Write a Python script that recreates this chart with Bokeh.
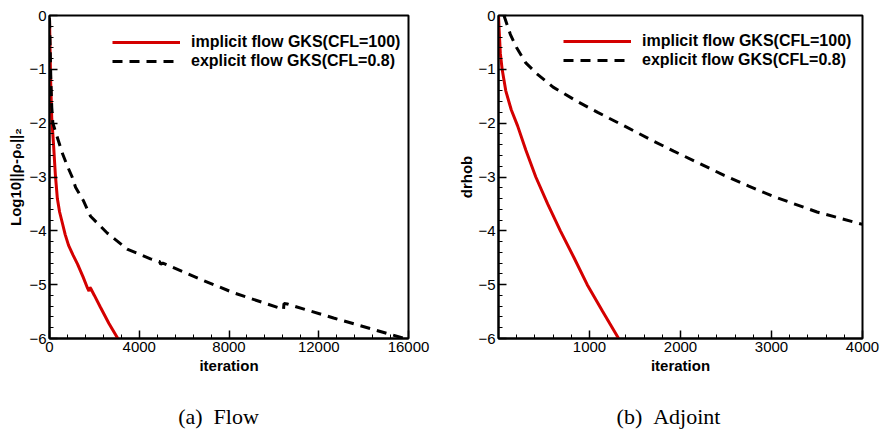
import numpy as np
from bokeh.plotting import figure
from bokeh.layouts import row, column
from bokeh.models import Range1d, FixedTicker, Legend, LegendItem, ColumnDataSource
from bokeh.core.properties import value
from bokeh.embed import file_html
from bokeh.resources import INLINE

# ---- data: (a) Flow ----
flow_imp_iter = [0, 20, 50, 100, 180, 260, 350, 450, 570, 700, 850, 1050, 1250, 1500, 1700, 1760, 1800, 1850, 2000, 2270, 2650, 3045]
flow_imp_res = [-0.05, -0.5, -1.2, -1.9, -2.4, -2.95, -3.4, -3.65, -3.85, -4.07, -4.27, -4.45, -4.62, -4.86, -5.07, -5.12, -5.05, -5.08, -5.2, -5.42, -5.72, -6.0]

flow_exp_iter = [0, 30, 60, 100, 150, 270, 400, 565, 800, 1010, 1160, 1500, 1830, 2570, 3460, 4500, 4900, 4960, 5050, 6730, 8200, 10430, 10450, 10600, 12660, 14170, 16000]
flow_exp_res = [-0.05, -0.6, -1.2, -1.7, -2.0, -2.16, -2.33, -2.55, -2.8, -3.0, -3.19, -3.43, -3.73, -4.04, -4.34, -4.52, -4.57, -4.62, -4.6, -4.9, -5.15, -5.46, -5.35, -5.36, -5.62, -5.8, -6.02]

# ---- data: (b) Adjoint ----
adj_imp_iter = [0, 8, 20, 40, 80, 140, 210, 300, 410, 540, 680, 830, 975, 1145, 1320]
adj_imp_res = [0.0, -0.3, -0.7, -1.0, -1.4, -1.75, -2.05, -2.5, -3.0, -3.5, -4.0, -4.5, -5.0, -5.5, -6.0]

adj_exp_iter = [60, 130, 200, 300, 420, 600, 870, 1090, 1380, 1700, 1925, 2200, 2480, 2750, 3020, 3500, 4000]
adj_exp_res = [0.0, -0.35, -0.6, -0.88, -1.08, -1.33, -1.6, -1.8, -2.05, -2.33, -2.52, -2.74, -2.97, -3.17, -3.36, -3.65, -3.88]

flow_xticks = [0, 4000, 8000, 12000, 16000]
adj_xticks = [1000, 2000, 3000, 4000]
yticks = [0, -1, -2, -3, -4, -5, -6]

legend_labels = ["implicit flow GKS(CFL=100)", "explicit flow GKS(CFL=0.8)"]
captions = ["(a)\u00a0\u00a0Flow", "(b)\u00a0\u00a0Adjoint"]
ylabels = ["Log10||\u03c1-\u03c1\u2080||\u2082", "drhob"]

RED = "#d40000"
FONT = "Liberation Sans"
FIG_H = 390


def make_fig(xmax, xticks, xminor, border, ylabel, ylab_standoff,
             imp_x, imp_y, exp_x, exp_y, leg_loc):
    bl, br, bt, bb = border
    p = figure(width=440, height=FIG_H, output_backend="svg", toolbar_location=None,
               x_range=Range1d(0, xmax), y_range=Range1d(-6, 0),
               min_border_left=bl, min_border_right=br, min_border_top=bt,
               min_border_bottom=bb)
    p.background_fill_color = "white"
    p.border_fill_color = "white"
    p.outline_line_color = "black"
    p.outline_line_width = 2
    p.grid.visible = False

    p.xaxis.ticker = FixedTicker(ticks=xticks, minor_ticks=xminor)
    p.yaxis.ticker = FixedTicker(ticks=yticks, minor_ticks=list(np.arange(-6, 0.01, 0.2)))
    for ax in (p.xaxis, p.yaxis):
        ax.axis_line_width = 2
        ax.axis_line_color = "black"
        ax.major_tick_in = 8
        ax.major_tick_out = 0
        ax.minor_tick_in = 4
        ax.minor_tick_out = 0
        ax.major_tick_line_width = 1.5
        ax.minor_tick_line_width = 1
        ax.major_label_text_font = FONT
        ax.major_label_text_font_size = "15px"
        ax.major_label_text_color = "black"
        ax.axis_label_text_font = FONT
        ax.axis_label_text_font_size = "15px"
        ax.axis_label_text_font_style = "bold"
        ax.axis_label_text_color = "black"
    p.xaxis.major_label_standoff = 3
    p.yaxis.major_label_standoff = 3
    p.xaxis.axis_label_standoff = 2
    p.yaxis.axis_label_standoff = ylab_standoff
    p.xaxis.axis_label = "iteration"
    p.yaxis.axis_label = ylabel

    r1 = p.line(imp_x, imp_y, line_color=RED, line_width=3)
    r2 = p.line(exp_x, exp_y, line_color="black", line_width=3, line_dash="10 7")

    leg = Legend(items=[LegendItem(label=legend_labels[0], renderers=[r1]),
                        LegendItem(label=legend_labels[1], renderers=[r2])],
                 location=leg_loc, glyph_width=68, glyph_height=18,
                 label_height=18, spacing=1, padding=0, margin=0,
                 label_standoff=11, border_line_alpha=0, background_fill_alpha=0,
                 label_text_font=FONT, label_text_font_size="16px",
                 label_text_font_style="bold", label_text_color="black")
    p.add_layout(leg)
    return p


p1 = make_fig(16000, flow_xticks, list(np.arange(0, 16001, 800)), (49, 32, 8, FIG_H - 338),
              ylabels[0], 2,
              flow_imp_iter, flow_imp_res, flow_exp_iter, flow_exp_res, (63, 268))
p2 = make_fig(4000, adj_xticks, list(np.arange(0, 4001, 200)), (58, 18, 15, FIG_H - 339),
              ylabels[1], 0,
              adj_imp_iter, adj_imp_res, adj_exp_iter, adj_exp_res, (65, 269))

# caption strip
CAP_H = 434 - FIG_H
cap = figure(width=880, height=CAP_H, output_backend="svg", toolbar_location=None,
             x_range=Range1d(0, 880), y_range=Range1d(0, CAP_H),
             min_border=0, min_border_left=0, min_border_right=0,
             min_border_top=0, min_border_bottom=0)
cap.axis.visible = False
cap.grid.visible = False
cap.outline_line_color = None
cap.background_fill_color = "white"
cap.border_fill_color = "white"
cap_src = ColumnDataSource(dict(x=[218, 668], y=[CAP_H - 26, CAP_H - 26], t=captions))
cap.text(x="x", y="y", text="t", source=cap_src, text_align="center",
         text_baseline="middle", text_font=value("Liberation Serif"),
         text_font_size="22px", text_color="black")

layout = column(row(p1, p2, spacing=0), cap, spacing=0)
open("out.html", "w").write(file_html(layout, INLINE))
